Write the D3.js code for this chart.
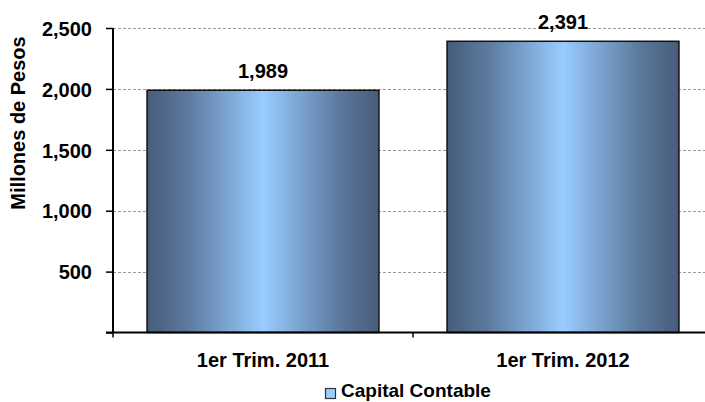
<!DOCTYPE html>
<html>
<head>
<meta charset="utf-8">
<script src="https://cdn.jsdelivr.net/npm/d3@7"></script>
<style>
  html, body { margin: 0; padding: 0; background: #fff; }
  svg { display: block; }
  text { font-family: "Liberation Sans", Arial, sans-serif; font-weight: bold; fill: #000; }
</style>
</head>
<body>
<div id="chart"></div>
<script>
const categories = ["1er Trim. 2011", "1er Trim. 2012"];
const values = [1989, 2391];
const seriesName = "Capital Contable";
const yTicks = [500, 1000, 1500, 2000, 2500];
const yTitle = "Millones de Pesos";

const W = 705, H = 402;
const svg = d3.select("#chart").append("svg").attr("width", W).attr("height", H);

const x = d3.scaleBand().domain(categories).range([113, 713])
  .paddingInner(0.227).paddingOuter(0.1135);
const step = x.step();
const y = d3.scaleLinear().domain([0, 2500]).range([332.5, 28]);

const defs = svg.append("defs");
const grad = defs.append("linearGradient").attr("id", "barGrad")
  .attr("x1", "0%").attr("x2", "100%").attr("y1", "0%").attr("y2", "0%");
[["0%", "#475c79"], ["18%", "#5d7b9f"], ["50%", "#99ccff"], ["82%", "#5d7b9f"], ["100%", "#475c79"]]
  .forEach(([o, c]) => grad.append("stop").attr("offset", o).attr("stop-color", c));

// gridlines
svg.append("g").selectAll("line").data(yTicks).join("line")
  .attr("x1", 113).attr("x2", W)
  .attr("y1", d => Math.round(y(d)) + 0.5).attr("y2", d => Math.round(y(d)) + 0.5)
  .attr("stroke", "#9a9a9a").attr("stroke-width", 1).attr("stroke-dasharray", "3,2");

// bars
svg.append("g").selectAll("rect").data(values).join("rect")
  .attr("x", (d, i) => x(categories[i]))
  .attr("y", d => y(d))
  .attr("width", x.bandwidth())
  .attr("height", d => y(0) - y(d))
  .attr("fill", "url(#barGrad)")
  .attr("stroke", "#111").attr("stroke-width", 1.5);

// value labels
svg.append("g").selectAll("text").data(values).join("text")
  .attr("x", (d, i) => x(categories[i]) + x.bandwidth() / 2)
  .attr("y", d => y(d) - 12)
  .attr("text-anchor", "middle")
  .attr("font-size", 20)
  .text(d => d3.format(",")(d));

// y axis
const yAxis = d3.axisLeft(y).tickValues([0].concat(yTicks)).tickSize(7).tickPadding(14)
  .tickFormat(d => d === 0 ? "" : d3.format(",")(d));
const gy = svg.append("g").attr("transform", "translate(113,0)").call(yAxis);
gy.select(".domain").attr("stroke", "#000").attr("stroke-width", 2).attr("d", `M-0,${y(0)}V${y(2500)}`);
gy.selectAll(".tick line").attr("stroke", "#000").attr("stroke-width", 1.5);
gy.selectAll(".tick text").attr("font-size", 20).attr("dy", "0.36em")
  .style("font-family", '"Liberation Sans", Arial, sans-serif').style("font-weight", "bold").attr("fill", "#000");

// x axis
const gx = svg.append("g").attr("transform", `translate(0,${y(0)})`);
gx.append("line").attr("x1", 106).attr("x2", W).attr("y1", 0).attr("y2", 0)
  .attr("stroke", "#000").attr("stroke-width", 2);
const boundaries = [x.range()[0], x(categories[1]) - x.paddingInner() * step / 2];
gx.selectAll("line.tk").data(boundaries).join("line").attr("class", "tk")
  .attr("x1", d => d).attr("x2", d => d).attr("y1", 0).attr("y2", 5)
  .attr("stroke", "#000").attr("stroke-width", 1.5);
gx.selectAll("text").data(categories).join("text")
  .attr("x", d => x(d) + x.bandwidth() / 2)
  .attr("y", 34)
  .attr("text-anchor", "middle").attr("font-size", 20)
  .text(d => d);

// y title
svg.append("text")
  .attr("transform", "translate(25,123) rotate(-90)")
  .attr("text-anchor", "middle").attr("font-size", 20)
  .text(yTitle);

// legend
const lg = svg.append("g");
lg.append("rect").attr("x", 325.5).attr("y", 388.5).attr("width", 10).attr("height", 10)
  .attr("fill", "#99ccff").attr("stroke", "#333").attr("stroke-width", 1.2);
lg.append("text").attr("x", 341).attr("y", 397).attr("font-size", 19).text(seriesName);
</script>
</body>
</html>
